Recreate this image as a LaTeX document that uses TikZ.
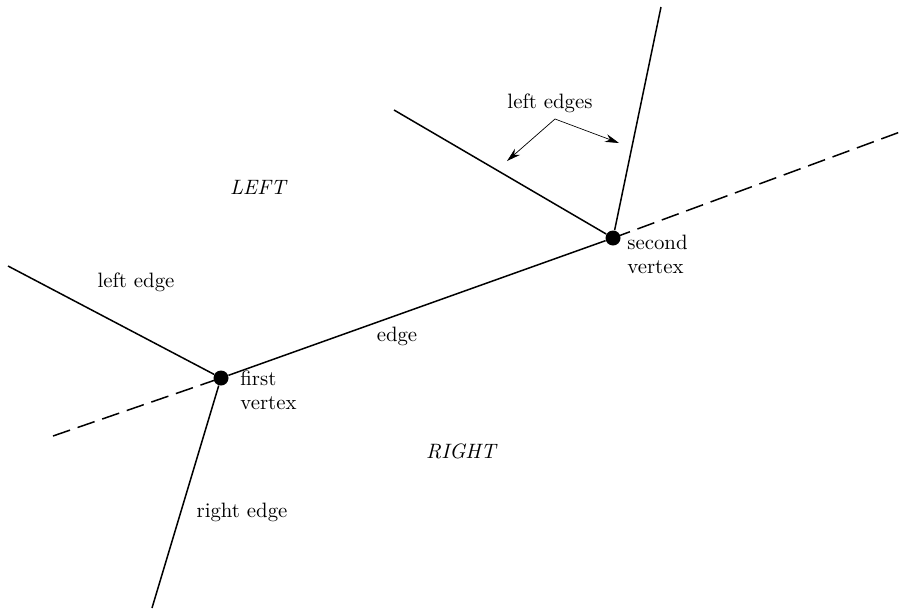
\documentclass[tikz,border=0pt]{standalone}
\usetikzlibrary{arrows.meta}
\begin{document}
\begin{tikzpicture}[x=0.5pt,y=-0.5pt,
  vertex/.style={circle,fill=black,inner sep=0pt,minimum size=7.5pt},
  edgeline/.style={line width=0.75pt},
  dashline/.style={line width=0.75pt,dash pattern=on 9pt off 4pt},
  pointer/.style={line width=0.35pt,-{Stealth[length=7pt,width=4pt]}},
  lbl/.style={font=\fontsize{10.4}{12}\selectfont,inner sep=0pt},
  lbll/.style={lbl,align=left,anchor=north west}]
\useasboundingbox (0,0) rectangle (900,611);
% vertices
\node[vertex] (v1) at (221,378) {};
\node[vertex] (v2) at (613,238) {};
% free ends
\coordinate (dl) at (53,436);
\coordinate (dr) at (900,132);
\coordinate (le) at (8,266);
\coordinate (re) at (152,608);
\coordinate (l2a) at (394,110);
\coordinate (l2b) at (661,7);
\coordinate (ps) at (555,119);
\coordinate (pa) at (507,161);
\coordinate (pb) at (619,143);
% lines
\draw[dashline] (dl) -- (v1.center);
\draw[dashline] (v2.center) -- (dr);
\draw[edgeline] (v1) -- (v2);
\draw[edgeline] (v1) -- (le);
\draw[edgeline] (v1) -- (re);
\draw[edgeline] (v2) -- (l2a);
\draw[edgeline] (v2) -- (l2b);
% pointers
\draw[pointer] (ps) -- (pa);
\draw[pointer] (ps) -- (pb);
% labels
\node[lbl] (tle) at (550,103) {left edges};
\node[lbl] (tL) at (258,187) {\itshape LEFT};
\node[lbl] (tl) at (136,282) {left edge};
\node[lbl] (te) at (397,336) {edge};
\node[lbll] (t1) at (240,370) {first\\vertex};
\node[lbll] (t2) at (627,235) {second\\vertex};
\node[lbl] (tR) at (461,451) {\itshape RIGHT};
\node[lbl] (tr) at (242,512) {right edge};
\end{tikzpicture}
\end{document}
